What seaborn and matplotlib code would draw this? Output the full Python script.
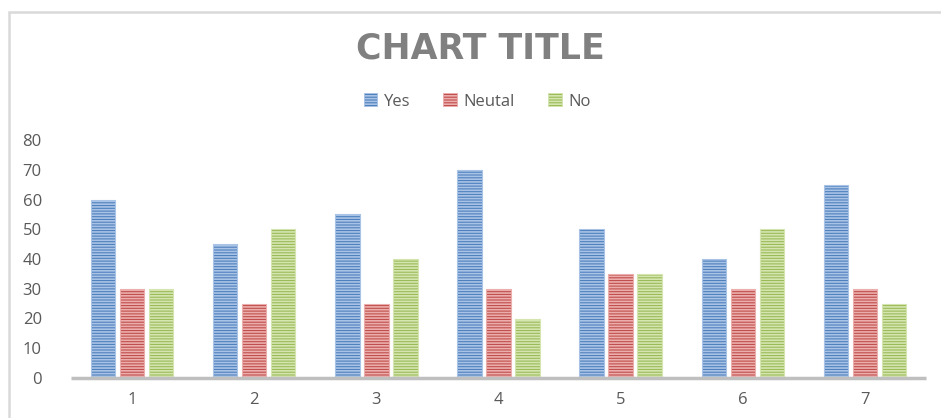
import numpy as np
import pandas as pd
import matplotlib
matplotlib.use("Agg")
import matplotlib.pyplot as plt
import matplotlib.patches as mpatches
import seaborn as sns

categories = ["1", "2", "3", "4", "5", "6", "7"]
series_names = ["Yes", "Neutal", "No"]
yes_vals = [60, 45, 55, 70, 50, 40, 65]
neutal_vals = [30, 25, 25, 30, 35, 30, 30]
no_vals = [30, 50, 40, 20, 35, 50, 25]
y_ticks = [0, 10, 20, 30, 40, 50, 60, 70, 80]

base_colors = {"Yes": "#4f81bd", "Neutal": "#c0504d", "No": "#9bbb59"}
stripe_colors = {"Yes": "#a9c3e6", "Neutal": "#ecaeac", "No": "#d4e5b0"}

df = pd.DataFrame({
    "cat": categories * 3,
    "series": [s for s in series_names for _ in categories],
    "value": yes_vals + neutal_vals + no_vals,
})

sns.set_theme(style="white")
plt.rcParams["font.family"] = ["Open Sans", "DejaVu Sans"]
plt.rcParams["hatch.linewidth"] = 1.2

fig = plt.figure(figsize=(9.41, 4.18), dpi=100)
ax = fig.add_axes([71 / 941, 1 - 378 / 418, (926 - 71) / 941, (378 - 140) / 418])

sns.barplot(data=df, x="cat", y="value", hue="series", order=categories,
            hue_order=series_names, palette=base_colors, width=0.713, gap=0.16,
            ax=ax, legend=False, saturation=1)

n = len(categories)
for i, patch in enumerate(ax.patches):
    if i // n >= 3:
        continue
    s = series_names[i // n]
    patch.set_facecolor(base_colors[s])
    patch.set_edgecolor(stripe_colors[s])
    patch.set_hatch("------")
    patch.set_linewidth(0.8)

ax.set_ylim(0, 80)
ax.set_xlim(-0.5, n - 0.5)
ax.set_yticks(y_ticks)
ax.set_xlabel("")
ax.set_ylabel("")
for sp in ["top", "right", "left"]:
    ax.spines[sp].set_visible(False)
ax.spines["bottom"].set_color("#bfbfbf")
ax.spines["bottom"].set_linewidth(2.5)
ax.spines["bottom"].set_capstyle("butt")
ax.tick_params(axis="both", length=0, labelsize=12, colors="#595959")
ax.tick_params(axis="y", pad=21)
ax.tick_params(axis="x", pad=10)

fig.text(0.511, 0.885, "CHART TITLE", ha="center", va="center", fontsize=25,
         fontweight="bold", color="#808080", family=["DejaVu Sans"])

handles = [mpatches.Patch(facecolor=base_colors[s], edgecolor=stripe_colors[s],
                          hatch="------", linewidth=0.6) for s in series_names]
fig.legend(handles, series_names, loc="center", bbox_to_anchor=(0.507, 0.757),
           ncol=3, frameon=False, fontsize=12, handlelength=0.8, handleheight=0.8,
           handletextpad=0.4, columnspacing=2.0, labelcolor="#595959")

# chart frame (left and top edges visible)
frame = mpatches.Rectangle((9 / 941, -0.1), 2.0, 1 - 12 / 418 + 0.1,
                           transform=fig.transFigure, fill=False,
                           edgecolor="#d9d9d9", linewidth=1.8)
fig.add_artist(frame)

fig.savefig("out.png", dpi=100)
